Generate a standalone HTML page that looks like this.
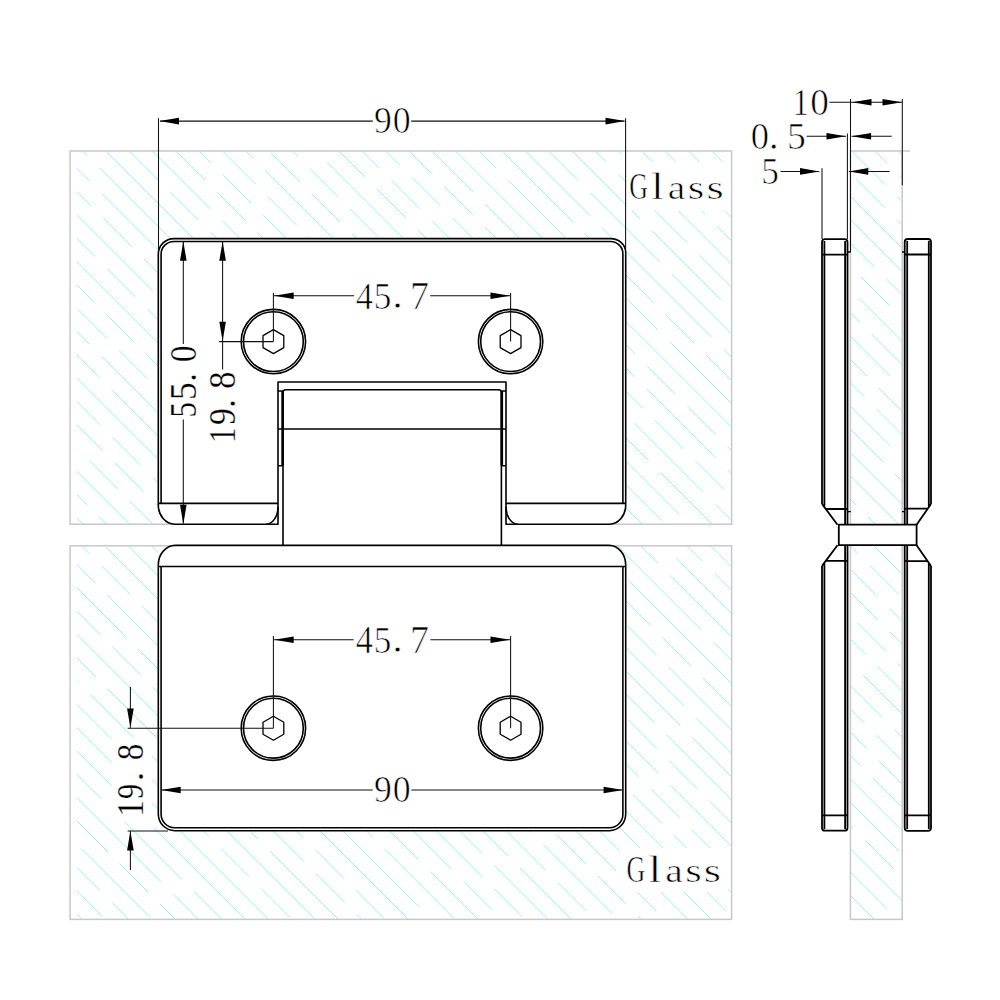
<!DOCTYPE html><html><head><meta charset="utf-8"><style>html,body{margin:0;padding:0;background:#fff;}svg{display:block;}</style></head><body><svg width="1000" height="1000" viewBox="0 0 1000 1000">
<defs><clipPath id="gc">
<rect x="76.8" y="151" width="654.80" height="373.20"/>
<rect x="76.8" y="545.8" width="654.80" height="373.60"/>
<rect x="850.4" y="151" width="51.80" height="768.40"/>
</clipPath></defs>
<rect width="1000" height="1000" fill="#fff"/>
<g clip-path="url(#gc)"><path d="M886.2 92.4L955.2 161.4M868.9 98.4L937.9 167.4M756.9 9.7L906.9 159.7M859.0 135.1L887.5 163.6M899.5 175.6L928.0 204.1M816.3 115.7L885.3 184.7M897.3 196.7L1047.3 346.7M816.0 138.7L844.5 167.2M856.5 179.2L885.0 207.7M897.0 219.7L925.5 248.2M791.6 137.6L820.1 166.1M832.1 178.1L901.1 247.1M716.8 86.1L785.8 155.1M797.8 167.1L826.3 195.6M838.3 207.6L907.3 276.6M724.3 116.9L793.3 185.9M805.3 197.9L833.8 226.4M845.8 238.4L874.3 266.9M886.3 278.9L955.3 347.9M699.1 115.0L768.1 184.0M780.1 196.0L849.1 265.0M861.1 277.0L889.6 305.5M901.6 317.5L1011.1 427.0M616.3 55.5L766.3 205.5M778.3 217.5L806.8 246.0M818.8 258.0L847.3 286.5M859.3 298.5L928.3 367.5M669.4 131.9L819.4 281.9M831.4 293.9L859.9 322.4M871.9 334.4L940.9 403.4M578.1 63.9L687.6 173.4M699.6 185.4L768.6 254.4M780.6 266.4L890.1 375.9M902.1 387.9L930.6 416.4M595.4 104.5L664.4 173.5M676.4 185.5L704.9 214.0M716.9 226.0L745.4 254.5M757.4 266.5L826.4 335.5M838.4 347.5L866.9 376.0M878.9 388.0L907.4 416.5M471.3 3.7L621.3 153.7M633.3 165.7L783.3 315.7M795.3 327.7L823.8 356.2M835.8 368.2L864.3 396.7M876.3 408.7L1026.3 558.7M496.9 52.6L606.4 162.1M618.4 174.1L687.4 243.1M699.4 255.1L768.4 324.1M780.4 336.1L889.9 445.6M901.9 457.6L970.9 526.6M530.3 109.3L639.8 218.8M651.8 230.8L720.8 299.8M732.8 311.8L801.8 380.8M813.8 392.8L882.8 461.8M894.8 473.8L923.3 502.3M428.6 30.9L578.6 180.9M590.6 192.9L659.6 261.9M671.6 273.9L740.6 342.9M752.6 354.9L821.6 423.9M833.6 435.9L983.6 585.9M520.9 146.5L589.9 215.5M601.9 227.5L711.4 337.0M723.4 349.0L751.9 377.5M763.9 389.5L832.9 458.5M844.9 470.5L913.9 539.5M463.1 112.0L491.6 140.5M503.6 152.5L572.6 221.5M584.6 233.5L613.1 262.0M625.1 274.0L653.6 302.5M665.6 314.5L694.1 343.0M706.1 355.0L734.6 383.5M746.6 395.5L775.1 424.0M787.1 436.0L856.1 505.0M868.1 517.0L896.6 545.5M908.6 557.5L1018.1 667.0M467.5 139.7L496.0 168.2M508.0 180.2L658.0 330.2M670.0 342.2L739.0 411.2M751.0 423.2L779.5 451.7M791.5 463.7L941.5 613.7M424.4 119.9L574.4 269.9M586.4 281.9L736.4 431.9M748.4 443.9L817.4 512.9M829.4 524.9L857.9 553.4M869.9 565.4L898.4 593.9M363.5 82.3L473.0 191.8M485.0 203.8L594.5 313.3M606.5 325.3L635.0 353.8M647.0 365.8L675.5 394.3M687.5 406.3L716.0 434.8M728.0 446.8L756.5 475.3M768.5 487.3L837.5 556.3M849.5 568.3L878.0 596.8M890.0 608.8L918.5 637.3M403.8 145.9L432.3 174.4M444.3 186.4L472.8 214.9M484.8 226.9L594.3 336.4M606.3 348.4L634.8 376.9M646.8 388.9L715.8 457.9M727.8 469.9L877.8 619.9M889.8 631.9L918.3 660.4M330.9 96.3L399.9 165.3M411.9 177.3L440.4 205.8M452.4 217.8L480.9 246.3M492.9 258.3L561.9 327.3M573.9 339.3L642.9 408.3M654.9 420.3L683.4 448.8M695.4 460.8L723.9 489.3M735.9 501.3L764.4 529.8M776.4 541.8L845.4 610.8M857.4 622.8L885.9 651.3M897.9 663.3L926.4 691.8M350.9 139.6L379.4 168.1M391.4 180.1L419.9 208.6M431.9 220.6L460.4 249.1M472.4 261.1L500.9 289.6M512.9 301.6L541.4 330.1M553.4 342.1L581.9 370.6M593.9 382.6L622.4 411.1M634.4 423.1L703.4 492.1M715.4 504.1L743.9 532.6M755.9 544.6L865.4 654.1M877.4 666.1L905.9 694.6M336.7 148.7L365.2 177.2M377.2 189.2L405.7 217.7M417.7 229.7L486.7 298.7M498.7 310.7L608.2 420.2M620.2 432.2L648.7 460.7M660.7 472.7L729.7 541.7M741.7 553.7L770.2 582.2M782.2 594.2L851.2 663.2M863.2 675.2L932.2 744.2M246.1 81.4L315.1 150.4M327.1 162.4L436.6 271.9M448.6 283.9L477.1 312.4M489.1 324.4L598.6 433.9M610.6 445.9L679.6 514.9M691.6 526.9L801.1 636.4M813.1 648.4L882.1 717.4M894.1 729.4L1003.6 838.9M147.7 6.3L297.7 156.3M309.7 168.3L338.2 196.8M350.2 208.8L378.7 237.3M390.7 249.3L419.2 277.8M431.2 289.8L459.7 318.3M471.7 330.3L500.2 358.8M512.2 370.8L662.2 520.8M674.2 532.8L702.7 561.3M714.7 573.3L743.2 601.8M755.2 613.8L783.7 642.3M795.7 654.3L864.7 723.3M876.7 735.3L945.7 804.3M190.1 72.0L259.1 141.0M271.1 153.0L299.6 181.5M311.6 193.5L340.1 222.0M352.1 234.0L461.6 343.5M473.6 355.5L502.1 384.0M514.1 396.0L542.6 424.5M554.6 436.5L664.1 546.0M676.1 558.0L785.6 667.5M797.6 679.5L826.1 708.0M838.1 720.0L866.6 748.5M878.6 760.5L1028.6 910.5M103.0 8.2L253.0 158.2M265.0 170.2L334.0 239.2M346.0 251.2L374.5 279.7M386.5 291.7L415.0 320.2M427.0 332.2L455.5 360.7M467.5 372.7L496.0 401.2M508.0 413.2L577.0 482.2M589.0 494.2L658.0 563.2M670.0 575.2L739.0 644.2M751.0 656.2L779.5 684.7M791.5 696.7L820.0 725.2M832.0 737.2L860.5 765.7M872.5 777.7L901.0 806.2M146.3 74.8L255.8 184.3M267.8 196.3L296.3 224.8M308.3 236.8L336.8 265.3M348.8 277.3L417.8 346.3M429.8 358.3L458.3 386.8M470.3 398.8L498.8 427.3M510.8 439.3L539.3 467.8M551.3 479.8L701.3 629.8M713.3 641.8L782.3 710.8M794.3 722.8L903.8 832.3M182.4 134.2L210.9 162.7M222.9 174.7L251.4 203.2M263.4 215.2L291.9 243.7M303.9 255.7L372.9 324.7M384.9 336.7L413.4 365.2M425.4 377.2L494.4 446.2M506.4 458.2L534.9 486.7M546.9 498.7L575.4 527.2M587.4 539.2L615.9 567.7M627.9 579.7L777.9 729.7M789.9 741.7L899.4 851.2M176.5 151.6L205.0 180.1M217.0 192.1L245.5 220.6M257.5 232.6L286.0 261.1M298.0 273.1L326.5 301.6M338.5 313.6L367.0 342.1M379.0 354.1L407.5 382.6M419.5 394.6L488.5 463.6M500.5 475.6L529.0 504.1M541.0 516.1L569.5 544.6M581.5 556.6L650.5 625.6M662.5 637.6L691.0 666.1M703.0 678.1L853.0 828.1M865.0 840.1L893.5 868.6M905.5 880.6L974.5 949.6M141.8 140.2L210.8 209.2M222.8 221.2L251.3 249.7M263.3 261.7L291.8 290.2M303.8 302.2L332.3 330.7M344.3 342.7L372.8 371.2M384.8 383.2L413.3 411.7M425.3 423.7L453.8 452.2M465.8 464.2L575.3 573.7M587.3 585.7L615.8 614.2M627.8 626.2L656.3 654.7M668.3 666.7L737.3 735.7M749.3 747.7L818.3 816.7M830.3 828.7L939.8 938.2M89.0 110.7L158.0 179.7M170.0 191.7L198.5 220.2M210.5 232.2L239.0 260.7M251.0 272.7L279.5 301.2M291.5 313.2L360.5 382.2M372.5 394.2L401.0 422.7M413.0 434.7L441.5 463.2M453.5 475.2L482.0 503.7M494.0 515.7L563.0 584.7M575.0 596.7L684.5 706.2M696.5 718.2L765.5 787.2M777.5 799.2L806.0 827.7M818.0 839.7L887.0 908.7M899.0 920.7L1008.5 1030.2M85.0 130.0L194.5 239.5M206.5 251.5L235.0 280.0M247.0 292.0L397.0 442.0M409.0 454.0L478.0 523.0M490.0 535.0L518.5 563.5M530.5 575.5L559.0 604.0M571.0 616.0L599.5 644.5M611.5 656.5L680.5 725.5M692.5 737.5L761.5 806.5M773.5 818.5L802.0 847.0M814.0 859.0L964.0 1009.0M-21.9 46.4L87.6 155.9M99.6 167.9L249.6 317.9M261.6 329.9L371.1 439.4M383.1 451.4L452.1 520.4M464.1 532.4L492.6 560.9M504.6 572.9L614.1 682.4M626.1 694.4L654.6 722.9M666.6 734.9L776.1 844.4M788.1 856.4L816.6 884.9M828.6 896.9L897.6 965.9M-60.1 31.5L89.9 181.5M101.9 193.5L170.9 262.5M182.9 274.5L211.4 303.0M223.4 315.0L292.4 384.0M304.4 396.0L373.4 465.0M385.4 477.0L413.9 505.5M425.9 517.5L494.9 586.5M506.9 598.5L575.9 667.5M587.9 679.5L616.4 708.0M628.4 720.0L656.9 748.5M668.9 760.5L697.4 789.0M709.4 801.0L737.9 829.5M749.9 841.5L778.4 870.0M790.4 882.0L818.9 910.5M830.9 922.5L859.4 951.0M63.0 177.9L91.5 206.4M103.5 218.4L132.0 246.9M144.0 258.9L213.0 327.9M225.0 339.9L294.0 408.9M306.0 420.9L375.0 489.9M387.0 501.9L456.0 570.9M468.0 582.9L496.5 611.4M508.5 623.4L658.5 773.4M670.5 785.4L780.0 894.9M792.0 906.9L901.5 1016.4M43.5 181.7L153.0 291.2M165.0 303.2L234.0 372.2M246.0 384.2L315.0 453.2M327.0 465.2L396.0 534.2M408.0 546.2L436.5 574.7M448.5 586.7L517.5 655.7M529.5 667.7L558.0 696.2M570.0 708.2L598.5 736.7M610.5 748.7L639.0 777.2M651.0 789.2L679.5 817.7M691.5 829.7L720.0 858.2M732.0 870.2L760.5 898.7M772.5 910.7L841.5 979.7M25.8 187.3L94.8 256.3M106.8 268.3L135.3 296.8M147.3 308.8L256.8 418.3M268.8 430.3L297.3 458.8M309.3 470.8L378.3 539.8M390.3 551.8L418.8 580.3M430.8 592.3L459.3 620.8M471.3 632.8L621.3 782.8M633.3 794.8L661.8 823.3M673.8 835.3L702.3 863.8M714.3 875.8L742.8 904.3M754.8 916.3L783.3 944.8M50.2 235.0L200.2 385.0M212.2 397.0L362.2 547.0M374.2 559.0L402.7 587.5M414.7 599.5L443.2 628.0M455.2 640.0L483.7 668.5M495.7 680.5L605.2 790.0M617.2 802.0L726.7 911.5M738.7 923.5L767.2 952.0M24.7 232.8L93.7 301.8M105.7 313.8L134.2 342.3M146.2 354.3L255.7 463.8M267.7 475.8L377.2 585.3M389.2 597.3L458.2 666.3M470.2 678.3L498.7 706.8M510.7 718.8L579.7 787.8M591.7 799.8L741.7 949.8M-2.6 228.8L66.4 297.8M78.4 309.8L106.9 338.3M118.9 350.3L147.4 378.8M159.4 390.8L309.4 540.8M321.4 552.8L390.4 621.8M402.4 633.8L430.9 662.3M442.9 674.3L511.9 743.3M523.9 755.3L552.4 783.8M564.4 795.8L714.4 945.8M-20.0 234.7L89.5 344.2M101.5 356.2L251.5 506.2M263.5 518.2L292.0 546.7M304.0 558.7L332.5 587.2M344.5 599.2L413.5 668.2M425.5 680.2L454.0 708.7M466.0 720.7L616.0 870.7M628.0 882.7L656.5 911.2M668.5 923.2L697.0 951.7M71.2 349.2L99.7 377.7M111.7 389.7L180.7 458.7M192.7 470.7L221.2 499.2M233.2 511.2L261.7 539.7M273.7 551.7L342.7 620.7M354.7 632.7L423.7 701.7M435.7 713.7L504.7 782.7M516.7 794.7L545.2 823.2M557.2 835.2L585.7 863.7M597.7 875.7L626.2 904.2M638.2 916.2L707.2 985.2M57.3 358.6L166.8 468.1M178.8 480.1L207.3 508.6M219.3 520.6L247.8 549.1M259.8 561.1L328.8 630.1M340.8 642.1L369.3 670.6M381.3 682.6L409.8 711.1M421.8 723.1L450.3 751.6M462.3 763.6L490.8 792.1M502.8 804.1L531.3 832.6M543.3 844.6L612.3 913.6M624.3 925.6L652.8 954.1M71.8 396.4L100.3 424.9M112.3 436.9L140.8 465.4M152.8 477.4L221.8 546.4M233.8 558.4L383.8 708.4M395.8 720.4L424.3 748.9M436.3 760.9L464.8 789.4M476.8 801.4L545.8 870.4M557.8 882.4L586.3 910.9M598.3 922.9L626.8 951.4M-47.0 300.9L103.0 450.9M115.0 462.9L143.5 491.4M155.5 503.4L184.0 531.9M196.0 543.9L346.0 693.9M358.0 705.9L427.0 774.9M439.0 786.9L467.5 815.4M479.5 827.4L508.0 855.9M520.0 867.9L589.0 936.9M48.8 420.0L77.3 448.5M89.3 460.5L117.8 489.0M129.8 501.0L158.3 529.5M170.3 541.5L198.8 570.0M210.8 582.0L239.3 610.5M251.3 622.5L279.8 651.0M291.8 663.0L320.3 691.5M332.3 703.5L482.3 853.5M494.3 865.5L563.3 934.5M8.3 402.8L158.3 552.8M170.3 564.8L198.8 593.3M210.8 605.3L279.8 674.3M291.8 686.3L360.8 755.3M372.8 767.3L482.3 876.8M494.3 888.8L522.8 917.3M534.8 929.3L563.3 957.8M58.5 476.3L87.0 504.8M99.0 516.8L168.0 585.8M180.0 597.8L249.0 666.8M261.0 678.8L289.5 707.3M301.5 719.3L330.0 747.8M342.0 759.8L370.5 788.3M382.5 800.3L451.5 869.3M463.5 881.3L492.0 909.8M504.0 921.8L532.5 950.3M25.5 466.6L94.5 535.6M106.5 547.6L256.5 697.6M268.5 709.6L378.0 819.1M390.0 831.1L418.5 859.6M430.5 871.6L499.5 940.6M20.3 484.7L89.3 553.7M101.3 565.7L129.8 594.2M141.8 606.2L170.3 634.7M182.3 646.7L210.8 675.2M222.8 687.2L251.3 715.7M263.3 727.7L291.8 756.2M303.8 768.2L332.3 796.7M344.3 808.7L372.8 837.2M384.8 849.2L453.8 918.2M26.3 514.0L95.3 583.0M107.3 595.0L176.3 664.0M188.3 676.0L216.8 704.5M228.8 716.5L257.3 745.0M269.3 757.0L297.8 785.5M309.8 797.5L419.3 907.0M431.3 919.0L540.8 1028.5M56.8 567.8L125.8 636.8M137.8 648.8L166.3 677.3M178.3 689.3L247.3 758.3M259.3 770.3L287.8 798.8M299.8 810.8L409.3 920.3M31.5 565.8L60.0 594.3M72.0 606.3L100.5 634.8M112.5 646.8L141.0 675.3M153.0 687.3L181.5 715.8M193.5 727.8L222.0 756.3M234.0 768.3L262.5 796.8M274.5 808.8L303.0 837.3M315.0 849.3L343.5 877.8M355.5 889.8L384.0 918.3M-7.9 549.7L61.1 618.7M73.1 630.7L182.6 740.2M194.6 752.2L304.1 861.7M316.1 873.7L344.6 902.2M356.6 914.2L385.1 942.7M67.4 648.3L95.9 676.8M107.9 688.8L257.9 838.8M269.9 850.8L419.9 1000.8M9.1 613.3L78.1 682.3M90.1 694.3L159.1 763.3M171.1 775.3L321.1 925.3M58.8 686.3L168.3 795.8M180.3 807.8L208.8 836.3M220.8 848.3L249.3 876.8M261.3 888.8L289.8 917.3M301.8 929.3L330.3 957.8M-27.6 623.2L122.4 773.2M134.4 785.2L162.9 813.7M174.9 825.7L284.4 935.2M-48.9 625.2L60.6 734.7M72.6 746.7L141.6 815.7M153.6 827.7L303.6 977.7M32.1 729.5L60.6 758.0M72.6 770.0L101.1 798.5M113.1 810.5L182.1 879.5M194.1 891.5L222.6 920.0M11.2 731.9L161.2 881.9M173.2 893.9L201.7 922.4M38.7 782.7L107.7 851.7M119.7 863.7L148.2 892.2M160.2 904.2L188.7 932.7M-80.8 686.5L69.2 836.5M81.2 848.5L150.2 917.5M162.2 929.5L190.7 958.0M-9.2 781.4L100.3 890.9M112.3 902.9L181.3 971.9M33.7 847.6L62.2 876.1M74.2 888.1L102.7 916.6M114.7 928.6L224.2 1038.1M29.4 866.6L98.4 935.6M-46.0 814.5L63.5 924.0M-15.7 914.7L134.3 1064.7M-47.6 929.4L61.9 1038.9" stroke="#90f6ec" stroke-width="1.0" fill="none"/></g>
<g fill="#fff">
<rect x="626.3" y="162" width="104.6" height="48.5"/>
<rect x="620" y="848" width="108" height="44"/>
<rect x="112" y="738" width="40" height="84"/>
</g>
<g fill="none" stroke="#c8c8c8" stroke-width="1.5">
<rect x="70.1" y="151" width="661.50" height="373.20"/>
<rect x="70.1" y="545.8" width="661.50" height="373.60"/>
<rect x="850.4" y="151" width="51.80" height="768.40"/>
<path d="M902 151H910"/>
</g>
<path d="M158.3 254 A15.7 15.4 0 0 1 174 238.6 H610.5 A15.2 13.6 0 0 1 625.7 252.2 V505 A16.2 19.2 0 0 1 609.5 524.2 H506 V382 H278 V524.2 H174.8 A16.5 19.2 0 0 1 158.3 505 Z" fill="#fff" stroke="none"/>
<rect x="278" y="382" width="228" height="163.4" fill="#fff"/>
<path d="M158.3 565 A17 19.6 0 0 1 175.3 545.4 H609 A16.7 19.6 0 0 1 625.7 565 V814 A16.2 16.7 0 0 1 609.5 830.7 H174.8 A16.5 16.7 0 0 1 158.3 814 Z" fill="#fff" stroke="none"/>
<g stroke="#000" fill="none" stroke-linejoin="round" stroke-width="1.6">
<path d="M158.3 254 A15.7 15.4 0 0 1 174 238.6 H610.5 A15.2 13.6 0 0 1 625.7 252.2 V505 A16.2 19.2 0 0 1 609.5 524.2 H506 V382 H278 V524.2 H174.8 A16.5 19.2 0 0 1 158.3 505 Z"/>
<path d="M161.1 503.4 V254 A12.9 12.6 0 0 1 174 241.5 H610.5 A12.4 12.2 0 0 1 622.9 253.7 V503.4"/>
<path d="M158.3 503.4 H278 M506 503.4 H625.7"/>
<path d="M278 507 A12 17.2 0 0 1 266 524.2 M506 507 A12 17.2 0 0 0 518 524.2"/>
<path d="M283 545.4 V392.5 Q283 389.8 285.7 389.8 H498.7 Q501.4 389.8 501.4 392.5 V545.4"/>
<path d="M278 391 H283 M501.4 391 H506 M278 465.8 H283 M501.4 465.8 H506 M278 429 H506"/>
<path d="M282.6 391 V465.8 M501.8 391 V465.8" stroke-width="2.6"/>
<path d="M158.3 565 A17 19.6 0 0 1 175.3 545.4 H609 A16.7 19.6 0 0 1 625.7 565 V814 A16.2 16.7 0 0 1 609.5 830.7 H174.8 A16.5 16.7 0 0 1 158.3 814 Z"/>
<path d="M158.3 566.5 H625.7"/>
<path d="M161.1 566.5 V814 A13.7 13.8 0 0 0 174.8 827.8 H609.5 A13.4 13.8 0 0 0 622.9 814 V566.5"/>
</g>
<g stroke="#000" fill="none" stroke-linejoin="round" stroke-width="1.6">
<circle cx="273.4" cy="341.6" r="32.2"/><circle cx="273.4" cy="341.6" r="29.9"/>
<polygon points="273.40,329.60 283.79,335.60 283.79,347.60 273.40,353.60 263.01,347.60 263.01,335.60" stroke-width="1.3"/>
<circle cx="510.6" cy="341.6" r="32.2"/><circle cx="510.6" cy="341.6" r="29.9"/>
<polygon points="510.60,329.60 520.99,335.60 520.99,347.60 510.60,353.60 500.21,347.60 500.21,335.60" stroke-width="1.3"/>
<circle cx="273.4" cy="728.2" r="32.2"/><circle cx="273.4" cy="728.2" r="29.9"/>
<polygon points="273.40,716.20 283.79,722.20 283.79,734.20 273.40,740.20 263.01,734.20 263.01,722.20" stroke-width="1.3"/>
<circle cx="510.6" cy="728.2" r="32.2"/><circle cx="510.6" cy="728.2" r="29.9"/>
<polygon points="510.60,716.20 520.99,722.20 520.99,734.20 510.60,740.20 500.21,734.20 500.21,722.20" stroke-width="1.3"/>
</g>
<g stroke="#000" fill="none" stroke-linejoin="round" stroke-width="1.8">
<path d="M822 504 V242.2 Q822 239.2 825 239.2 H844.5 Q847.5 239.2 847.5 242.2 V524.7"/>
<path d="M822 504 V242.2 Q822 239.2 825 239.2 H844.5 Q847.5 239.2 847.5 242.2 V524.7" transform="matrix(1 0 0 -1 0 1069.9)"/>
<path d="M824.4 506.5 V241 M845.1 241 V524.7 M822 254.6 H847.5 M825.5 509 H847.5 M822 504 L837.5 524.7"/>
<path d="M824.4 506.5 V241 M845.1 241 V524.7 M822 254.6 H847.5 M825.5 509 H847.5 M822 504 L837.5 524.7" transform="matrix(1 0 0 -1 0 1069.9)"/>
<path d="M931 504 V242.2 Q931 239 928 239 H907.7 Q904.7 239 904.7 242.2 V524.7"/>
<path d="M931 504 V242.2 Q931 239 928 239 H907.7 Q904.7 239 904.7 242.2 V524.7" transform="matrix(1 0 0 -1 0 1069.9)"/>
<path d="M928.8 506.5 V241 M907.2 241 V524.7 M904.7 254.5 H931 M904.7 508.7 H927 M931 504 L916.6 524.7"/>
<path d="M928.8 506.5 V241 M907.2 241 V524.7 M904.7 254.5 H931 M904.7 508.7 H927 M931 504 L916.6 524.7" transform="matrix(1 0 0 -1 0 1069.9)"/>
<rect x="838.8" y="524.7" width="77.8" height="20.5" fill="#fff"/>
</g>
<g stroke="#000" stroke-width="1.3"><path d="M847.5 511.7H850.8M902 511.7H905M847.5 252H850.8M902 252H905"/></g>
<path d="M158.5 118.3 V249 M625.6 118.3 V249 M160 121.1 H372.8 M411.2 121.1 H624.5M273.4 293 V341.6 M510.6 293 V341.6 M274 295.7 H354 M430.2 295.7 H510M183.3 242 V344 M183.3 419.5 V523.5M222.6 242 V369.4 M219.2 341.6 H273.4M273.4 636 V728.2 M510.6 636 V728.2 M274 639.8 H353.6 M430.3 639.8 H510M161.5 790 H372.8 M411.2 790 H622.5M130.4 687 V727.5 M127.6 728.2 H273.4 M127.6 831 H168 M130.4 831.5 V870M850.5 99 V252 M847.4 133.5 V239 M822 168.2 V239 M902.3 99 V185.2M829.4 102.3 H902 M806.6 136.2 H846 M851.6 136.2 H891.7 M780.5 171.4 H819.2 M848.8 171.4 H889.6" stroke="#111" stroke-width="1.05" fill="none"/>
<path d="M159.5 121.1L179.0 117.8L179.0 124.39999999999999ZM625 121.1L605.5 117.8L605.5 124.39999999999999ZM274.2 295.7L293.7 292.4L293.7 299.0ZM510 295.7L490.5 292.4L490.5 299.0ZM183.3 241.3L180.0 260.8L186.60000000000002 260.8ZM183.3 524.2L180.0 504.70000000000005L186.60000000000002 504.70000000000005ZM222.6 241.3L219.29999999999998 260.8L225.9 260.8ZM222.6 341.2L219.29999999999998 321.7L225.9 321.7ZM274.2 639.8L293.7 636.5L293.7 643.0999999999999ZM510 639.8L490.5 636.5L490.5 643.0999999999999ZM161.2 790L180.7 786.7L180.7 793.3ZM623.1 790L603.6 786.7L603.6 793.3ZM130.4 728L127.10000000000001 708.5L133.70000000000002 708.5ZM130.4 831L127.10000000000001 850.5L133.70000000000002 850.5ZM852 102.3L871.5 99.0L871.5 105.6ZM902 102.3L882.5 99.0L882.5 105.6ZM846 136.2L826.5 132.89999999999998L826.5 139.5ZM851.6 136.2L871.1 132.89999999999998L871.1 139.5ZM819.5 171.4L800.0 168.1L800.0 174.70000000000002ZM848.8 171.4L868.3 168.1L868.3 174.70000000000002Z" fill="#000"/>
<g font-family="Liberation Serif" font-size="100" fill="#000" stroke="#fff" stroke-width="0.8">
<text stroke-width="1.8" transform="matrix(0.3562 0 0 0.3870 374.05 133.42)">9</text><text stroke-width="1.8" transform="matrix(0.3586 0 0 0.3853 392.63 133.42)">0</text><text stroke-width="1.8" transform="matrix(0.3562 0 0 0.3810 374.05 802.23)">9</text><text stroke-width="1.8" transform="matrix(0.3586 0 0 0.3794 392.63 802.23)">0</text><text stroke-width="1.8" transform="matrix(0.3442 0 0 0.3889 355.83 308.90)">4</text><text stroke-width="1.8" transform="matrix(0.3525 0 0 0.3852 373.75 308.52)">5</text><text stroke-width="1.8" transform="matrix(0.4231 0 0 0.4231 392.21 308.30)">.</text><text stroke-width="1.8" transform="matrix(0.3800 0 0 0.3910 410.10 308.90)">7</text><text stroke-width="1.8" transform="matrix(0.3442 0 0 0.3935 355.83 653.00)">4</text><text stroke-width="1.8" transform="matrix(0.3525 0 0 0.3897 373.75 652.62)">5</text><text stroke-width="1.8" transform="matrix(0.4231 0 0 0.4231 392.21 652.40)">.</text><text stroke-width="1.8" transform="matrix(0.3800 0 0 0.3955 410.10 653.00)">7</text><text stroke-width="1.8" transform="matrix(0.3295 0 0 0.3817 792.50 114.90)">1</text><text stroke-width="1.8" transform="matrix(0.3728 0 0 0.3734 810.28 114.54)">0</text><text stroke-width="1.8" transform="matrix(0.3657 0 0 0.3734 750.71 148.74)">0</text><text stroke-width="1.8" transform="matrix(0.3978 0 0 0.3978 768.68 148.54)">.</text><text stroke-width="1.8" transform="matrix(0.3773 0 0 0.3792 786.91 148.73)">5</text><text stroke-width="1.8" transform="matrix(0.3525 0 0 0.3807 761.35 183.93)">5</text><text stroke-width="1.8" transform="matrix(0.2585 0 0 0.3840 629.14 199.22)">G</text><text stroke-width="1.8" transform="matrix(0.4794 0 0 0.3848 650.84 199.20)">l</text><text stroke-width="1.8" transform="matrix(0.3949 0 0 0.3382 667.81 199.27)">a</text><text stroke-width="1.8" transform="matrix(0.4231 0 0 0.3368 687.86 199.27)">s</text><text stroke-width="1.8" transform="matrix(0.4423 0 0 0.3368 706.39 199.27)">s</text><text stroke-width="1.8" transform="matrix(0.2585 0 0 0.3840 626.54 882.33)">G</text><text stroke-width="1.8" transform="matrix(0.4794 0 0 0.3848 648.24 882.30)">l</text><text stroke-width="1.8" transform="matrix(0.3949 0 0 0.3382 665.21 882.37)">a</text><text stroke-width="1.8" transform="matrix(0.4231 0 0 0.3368 685.26 882.37)">s</text><text stroke-width="1.8" transform="matrix(0.4423 0 0 0.3368 703.79 882.37)">s</text><text stroke-width="0.8" transform="matrix(0 -0.3078 0.3822 0 196.03 417.39)">5</text><text stroke-width="0.8" transform="matrix(0 -0.3550 0.3822 0 196.03 400.06)">5</text><text stroke-width="0.8" transform="matrix(0 -0.3300 0.3808 0 195.86 381.38)">.</text><text stroke-width="0.8" transform="matrix(0 -0.3374 0.3764 0 196.03 362.29)">0</text><text stroke-width="0.8" transform="matrix(0 -0.3153 0.3848 0 235.40 443.07)">1</text><text stroke-width="0.8" transform="matrix(0 -0.3351 0.3780 0 235.03 425.08)">9</text><text stroke-width="0.8" transform="matrix(0 -0.3808 0.3808 0 234.86 408.31)">.</text><text stroke-width="0.8" transform="matrix(0 -0.3516 0.3764 0 235.03 388.94)">8</text><text stroke-width="0.8" transform="matrix(0 -0.3409 0.3787 0 143.00 817.00)">1</text><text stroke-width="0.8" transform="matrix(0 -0.3046 0.3721 0 142.64 798.98)">9</text><text stroke-width="0.8" transform="matrix(0 -0.4231 0.3385 0 142.52 781.79)">.</text><text stroke-width="0.8" transform="matrix(0 -0.3303 0.3705 0 142.64 760.26)">8</text>
</g>
</svg></body></html>
